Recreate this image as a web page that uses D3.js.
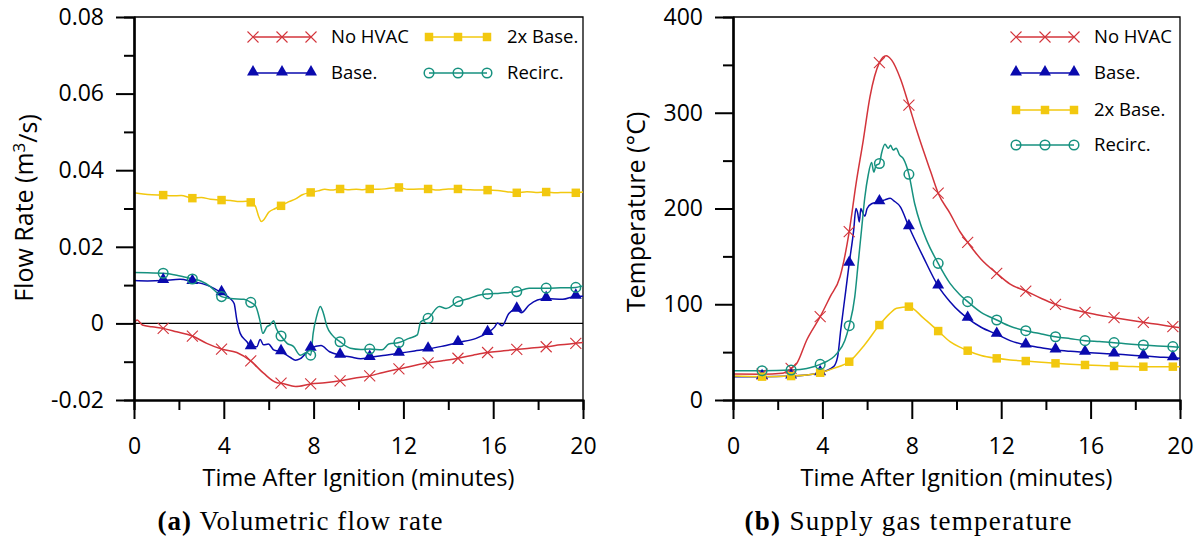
<!DOCTYPE html>
<html>
<head>
<meta charset="utf-8">
<script src="https://cdn.jsdelivr.net/npm/d3@7"></script>
<style>
body { margin: 0; background: #fff; }
text { font-family: "Open Sans", sans-serif; fill: #000; }
.cap { font-family: "Liberation Serif", "DejaVu Serif", serif; }
</style>
</head>
<body>
<div id="draw"></div>
<script>
// times where the markers sit (same for every curve)
var markerTimes = [1.3, 2.6, 3.9, 5.2, 6.55, 7.87, 9.18, 10.5, 11.8, 13.1, 14.43, 15.75, 17.05, 18.36, 19.68];

// (a) flow rate, m3/s
var flowNoHvac = [[0,0.0000],[0.14,0.0009],[0.37,-0.0004],[0.8,-0.0009],[1.3,-0.0013],[1.9,-0.0022],[2.6,-0.0033],[3.24,-0.0052],[3.9,-0.0067],[4.58,-0.0076],[5.2,-0.0098],[5.77,-0.0130],[6.37,-0.0155],[6.55,-0.0156],[7.19,-0.0165],[7.87,-0.0158],[8.5,-0.0155],[9.18,-0.0150],[9.8,-0.0143],[10.5,-0.0137],[11.1,-0.0128],[11.8,-0.0119],[12.4,-0.0111],[13.1,-0.0103],[13.8,-0.0097],[14.43,-0.0091],[15.1,-0.0083],[15.75,-0.0076],[16.4,-0.0072],[17.05,-0.0068],[17.7,-0.0064],[18.36,-0.0061],[19.0,-0.0056],[19.68,-0.0052],[20,-0.0050]];
var flowBase = [[0,0.0112],[0.6,0.0111],[1.3,0.0112],[2.05,0.0115],[2.6,0.0109],[3.24,0.0100],[3.9,0.0080],[4.28,0.0065],[4.46,0.0052],[4.58,0.0009],[4.73,-0.0026],[5.03,-0.0048],[5.2,-0.0061],[5.47,-0.0061],[5.62,-0.0042],[5.77,-0.0056],[5.99,-0.0054],[6.22,-0.0069],[6.55,-0.0074],[6.97,-0.0089],[7.19,-0.0096],[7.41,-0.0092],[7.87,-0.0065],[8.33,-0.0058],[8.71,-0.0074],[9.18,-0.0083],[9.67,-0.0088],[10.1,-0.0092],[10.5,-0.0089],[11.2,-0.0083],[11.8,-0.0078],[12.5,-0.0072],[13.1,-0.0067],[13.7,-0.0060],[14.43,-0.0050],[15.24,-0.0039],[15.75,-0.0024],[16.07,-0.0009],[16.19,0.0001],[16.4,-0.0006],[16.7,0.0026],[17.05,0.0037],[17.25,0.0028],[17.6,0.0048],[17.97,0.0061],[18.36,0.0065],[19.1,0.0063],[19.68,0.0071],[20,0.0071]];
var flow2xBase = [[0,0.0341],[0.4,0.0338],[0.8,0.0336],[1.3,0.0335],[1.7,0.0333],[2.1,0.0334],[2.6,0.0327],[3.0,0.0329],[3.4,0.0324],[3.9,0.0322],[4.3,0.0321],[4.7,0.0318],[5.0,0.0319],[5.2,0.0316],[5.4,0.0307],[5.55,0.0280],[5.67,0.0266],[5.8,0.0272],[6.0,0.0290],[6.3,0.0300],[6.55,0.0307],[6.9,0.0318],[7.2,0.0325],[7.5,0.0336],[7.87,0.0342],[8.2,0.0346],[8.5,0.0350],[8.8,0.0348],[9.18,0.0351],[9.5,0.0349],[9.9,0.0350],[10.2,0.0349],[10.5,0.0351],[10.9,0.0350],[11.3,0.0352],[11.8,0.0355],[12.2,0.0350],[12.7,0.0351],[13.1,0.0351],[13.5,0.0348],[14.0,0.0351],[14.43,0.0351],[14.9,0.0349],[15.3,0.0348],[15.75,0.0348],[16.2,0.0347],[16.6,0.0344],[17.05,0.0341],[17.5,0.0344],[17.9,0.0342],[18.36,0.0343],[18.8,0.0341],[19.2,0.0342],[19.68,0.0341],[20,0.0343]];
var flowRecirc = [[0,0.0133],[0.6,0.0132],[1.3,0.0131],[1.9,0.0126],[2.6,0.0116],[3.0,0.0110],[3.4,0.0096],[3.7,0.0080],[3.9,0.0070],[4.3,0.0065],[4.9,0.0063],[5.2,0.0055],[5.42,0.0045],[5.6,0.0010],[5.74,-0.0026],[5.92,-0.0009],[6.06,-0.0004],[6.22,0.0007],[6.33,-0.0012],[6.55,-0.0033],[6.82,-0.0052],[7.1,-0.0060],[7.41,-0.0083],[7.7,-0.0076],[7.87,-0.0083],[7.98,-0.0026],[8.13,0.0017],[8.3,0.0044],[8.44,0.0026],[8.6,-0.0009],[8.82,-0.0030],[9.18,-0.0048],[9.64,-0.0065],[10.1,-0.0068],[10.5,-0.0067],[11.05,-0.0069],[11.35,-0.0054],[11.8,-0.0050],[12.25,-0.0039],[12.62,-0.0030],[12.77,0.0004],[13.1,0.0013],[13.6,0.0044],[13.9,0.0039],[14.43,0.0057],[14.93,0.0065],[15.3,0.0073],[15.75,0.0077],[16.3,0.0079],[17.05,0.0083],[17.6,0.0092],[18.36,0.0092],[19.0,0.0093],[19.68,0.0094],[20,0.0098]];

// (b) supply gas temperature, deg C
var tempNoHvac = [[0,27.2],[1.3,27],[2.2,28],[2.6,33],[2.85,38],[3.3,62.7],[3.9,87],[4.35,108],[4.79,128.8],[5.2,175.8],[5.5,225],[5.83,271.5],[6.13,316.8],[6.55,352.3],[6.85,359.6],[7.1,355],[7.5,335],[7.87,308],[8.2,283],[8.51,261],[8.85,238],[9.18,216],[9.71,195],[10.15,176],[10.5,164.7],[11.1,147],[11.8,132.3],[12.4,121],[13.1,113.8],[13.8,106],[14.43,99.9],[15.1,95],[15.75,91.6],[16.4,88.5],[17.05,86],[17.7,83.5],[18.36,81.1],[19.0,79],[19.68,76.6],[20,75.5]];
var tempBase = [[0,24.4],[1.3,24.4],[2.6,25],[3.9,28.5],[4.5,34.8],[4.68,45],[4.82,73],[5.05,115],[5.2,142.7],[5.4,177.5],[5.5,200],[5.58,195],[5.65,186],[5.72,200],[5.8,196],[5.9,192],[6.0,200],[6.2,205],[6.55,207],[6.8,209],[7.03,210.6],[7.2,208],[7.48,202],[7.87,181],[8.5,150],[9.18,119],[9.71,102.7],[10.15,92],[10.5,85.3],[11.1,76],[11.8,68.6],[12.4,62],[13.1,57.4],[13.8,54.5],[14.43,52.2],[15.1,50.8],[15.75,49.8],[16.4,48.8],[17.05,48],[17.7,47],[18.36,46],[19.0,45],[19.68,44.2],[20,43.5]];
var temp2xBase = [[0,25],[1.3,24.4],[2.6,25],[3.9,28.5],[4.5,33],[5.2,40],[5.9,58],[6.55,78.3],[7.0,90],[7.32,95.8],[7.87,97.5],[8.5,86],[9.18,72],[9.71,61],[10.1,55.7],[10.5,51.5],[11.1,46.5],[11.8,43.5],[12.4,41.8],[13.1,40.7],[13.8,39.4],[14.43,38.3],[15.1,37.4],[15.75,36.6],[16.4,36],[17.05,35.5],[17.7,35.1],[18.36,34.8],[19.0,34.8],[19.68,34.8],[20,34.7]];
var tempRecirc = [[0,30.6],[1.3,30.6],[2.6,31.3],[3.3,33],[3.9,37.2],[4.65,48.7],[5.0,62],[5.2,77.6],[5.45,108],[5.6,142.7],[5.75,177.5],[5.9,212],[6.05,235],[6.2,248],[6.3,238],[6.4,245],[6.55,247],[6.65,258],[6.8,267],[6.95,263],[7.05,266],[7.17,261],[7.3,263],[7.45,256],[7.62,252],[7.87,235.7],[8.13,205],[8.4,183],[8.66,167],[9.18,142.7],[9.71,121.8],[10.15,110],[10.5,102.7],[11.1,91.5],[11.8,83.6],[12.4,77],[13.1,72.4],[13.8,69],[14.43,66.1],[15.1,64],[15.75,62],[16.4,61],[17.05,59.9],[17.7,58.5],[18.36,57.4],[19.0,56.5],[19.68,55.7],[20,55]];

var xTicks = [0, 4, 8, 12, 16, 20];
var xMinor = [2, 6, 10, 14, 18];
var flowTicks = [-0.02, 0, 0.02, 0.04, 0.06, 0.08];
var flowMinor = [-0.01, 0.01, 0.03, 0.05, 0.07];
var tempTicks = [0, 100, 200, 300, 400];
var tempMinor = [50, 150, 250, 350];

var colRed = "#d3343b", colBlue = "#0a0aae", colYellow = "#f2c80f", colTeal = "#16917f";

var w = 1204, h = 542;
var svg = d3.select("#draw").append("svg")
    .attr("width", w)
    .attr("height", h);

//画标记
function marker(g, type, color, x, y) {
    if (type === "x") {
        g.append("path")
            .attr("d", "M" + (x - 5.5) + "," + (y - 5.5) + "L" + (x + 5.5) + "," + (y + 5.5) +
                       "M" + (x - 5.5) + "," + (y + 5.5) + "L" + (x + 5.5) + "," + (y - 5.5))
            .attr("stroke", color).attr("stroke-width", 1.1).attr("fill", "none");
    } else if (type === "o") {
        g.append("circle").attr("cx", x).attr("cy", y).attr("r", 4.8)
            .attr("fill", "none").attr("stroke", color).attr("stroke-width", 1.5);
    } else {
        var sym = type === "tri" ? d3.symbolTriangle : d3.symbolSquare;
        var size = type === "tri" ? 62 : 72;
        g.append("path")
            .attr("d", d3.symbol().type(sym).size(size)())
            .attr("transform", "translate(" + x + "," + (type === "tri" ? y - 1 : y) + ")")
            .attr("fill", color);
    }
}

function isMarker(t) {
    return markerTimes.some(function (m) { return Math.abs(m - t) < 1e-6; });
}

function panel(cfg) {
    var x = d3.scaleLinear().domain([0, 20]).range([cfg.left, cfg.right]);
    var y = d3.scaleLinear().domain(cfg.yDomain).range([400, 17]);
    var g = svg.append("g");

    // frame top/right
    g.append("path")
        .attr("d", "M" + cfg.left + ",17H" + cfg.right + "V400")
        .attr("fill", "none").attr("stroke", "#000").attr("stroke-width", 1.3);

    if (cfg.zero) {
        g.append("line")
            .attr("x1", cfg.left).attr("x2", cfg.right)
            .attr("y1", y(0)).attr("y2", y(0))
            .attr("stroke", "#000").attr("stroke-width", 1.2);
    }

    // curves
    var line = d3.line()
        .x(function (d) { return x(d[0]); })
        .y(function (d) { return y(d[1]); })
        .curve(d3.curveMonotoneX);
    cfg.series.forEach(function (s) {
        g.append("path").datum(s.data)
            .attr("d", line)
            .attr("fill", "none")
            .attr("stroke", s.color)
            .attr("stroke-width", 1.5);
    });
    cfg.series.forEach(function (s) {
        s.data.filter(function (d) { return isMarker(d[0]); }).forEach(function (d) {
            marker(g, s.type, s.color, x(d[0]), y(d[1]));
        });
    });

    // axes
    var ax = g.append("g").attr("transform", "translate(0,400)");
    ax.call(d3.axisBottom(x).tickValues(xMinor).tickSize(10).tickFormat(""));
    var axM = g.append("g").attr("transform", "translate(0,400)");
    axM.call(d3.axisBottom(x).tickValues(xTicks).tickSize(19).tickPadding(19).tickSizeOuter(0));
    var ay = g.append("g").attr("transform", "translate(" + cfg.left + ",0)");
    ay.call(d3.axisLeft(y).tickValues(cfg.yMinor).tickSize(10).tickFormat(""));
    var ayM = g.append("g").attr("transform", "translate(" + cfg.left + ",0)");
    ayM.call(d3.axisLeft(y).tickValues(cfg.yTicks).tickSize(18).tickPadding(12).tickSizeOuter(0)
        .tickFormat(cfg.fmt));
    [ax, axM, ay, ayM].forEach(function (a) {
        a.select(".domain").attr("stroke-width", 2.2);
        a.selectAll(".tick line").attr("stroke-width", 2);
        a.selectAll("text").style("font-size", "23px").style("font-family", "Open Sans");
    });

    // titles
    g.append("text")
        .attr("x", (cfg.left + cfg.right) / 2).attr("y", 486)
        .attr("text-anchor", "middle").style("font-size", "23.5px")
        .text("Time After Ignition (minutes)");
    var yt = g.append("text")
        .attr("transform", "translate(" + cfg.yLabelX + "," + cfg.yLabelY + ") rotate(-90)")
        .attr("text-anchor", "middle").style("font-size", "25px");
    cfg.yLabel(yt);

    // caption
    var cap = g.append("text").attr("class", "cap")
        .attr("x", cfg.capX).attr("y", 530)
        .attr("text-anchor", "middle").style("font-size", "27px")
        .attr("textLength", cfg.capLen).attr("lengthAdjust", "spacing");
    cap.append("tspan").attr("font-weight", "bold").text(cfg.capTag);
    cap.append("tspan").text(" " + cfg.capText);

    // legend
    cfg.legend.forEach(function (l) {
        var s = cfg.series[l.i];
        g.append("line").attr("x1", l.x).attr("x2", l.x + 58)
            .attr("y1", l.y).attr("y2", l.y)
            .attr("stroke", s.color).attr("stroke-width", 1.5);
        [0, 29, 58].forEach(function (dx) { marker(g, s.type, s.color, l.x + dx, l.y); });
        g.append("text").attr("x", l.x + 78).attr("y", l.y).attr("dy", "0.35em")
            .style("font-size", "18.5px").text(s.name);
    });
}

panel({
    left: 134, right: 583, yDomain: [-0.02, 0.08],
    yTicks: flowTicks, yMinor: flowMinor, zero: true,
    fmt: function (d) { return d === 0 ? "0" : d3.format(".2f")(d).replace("−", "-"); },
    series: [
        { name: "No HVAC", data: flowNoHvac, color: colRed, type: "x" },
        { name: "Base.", data: flowBase, color: colBlue, type: "tri" },
        { name: "2x Base.", data: flow2xBase, color: colYellow, type: "sq" },
        { name: "Recirc.", data: flowRecirc, color: colTeal, type: "o" }
    ],
    legend: [{ i: 0, x: 253, y: 37 }, { i: 2, x: 429, y: 37 }, { i: 1, x: 253, y: 73 }, { i: 3, x: 429, y: 73 }],
    yLabelX: 33, yLabelY: 208,
    yLabel: function (t) {
        t.append("tspan").text("Flow Rate (m");
        t.append("tspan").attr("dy", "-0.5em").style("font-size", "17px").text("3");
        t.append("tspan").attr("dy", "0.5em").text("/s)");
    },
    capX: 300, capLen: 285, capTag: "(a)", capText: "Volumetric flow rate"
});

panel({
    left: 733, right: 1180, yDomain: [0, 400],
    yTicks: tempTicks, yMinor: tempMinor, zero: false,
    fmt: d3.format("d"),
    series: [
        { name: "No HVAC", data: tempNoHvac, color: colRed, type: "x" },
        { name: "Base.", data: tempBase, color: colBlue, type: "tri" },
        { name: "2x Base.", data: temp2xBase, color: colYellow, type: "sq" },
        { name: "Recirc.", data: tempRecirc, color: colTeal, type: "o" }
    ],
    legend: [{ i: 0, x: 1016, y: 37 }, { i: 1, x: 1016, y: 73 }, { i: 2, x: 1016, y: 110 }, { i: 3, x: 1016, y: 145 }],
    yLabelX: 645, yLabelY: 212,
    yLabel: function (t) { t.text("Temperature (°C)"); },
    capX: 908, capLen: 327, capTag: "(b)", capText: "Supply gas temperature"
});
</script>
</body>
</html>
